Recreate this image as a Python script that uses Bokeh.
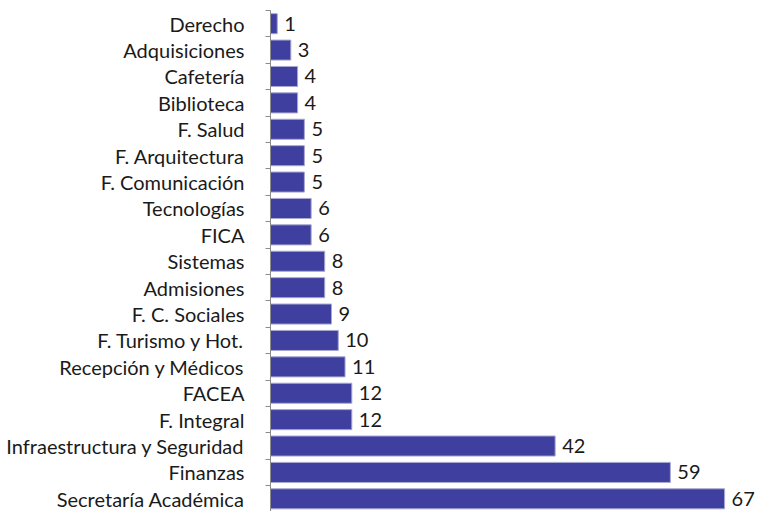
import numpy as np
from bokeh.plotting import figure
from bokeh.models import ColumnDataSource, Range1d, FixedTicker, LabelSet
from bokeh.core.properties import value
from bokeh.embed import file_html
from bokeh.resources import INLINE

categories = ["Derecho", "Adquisiciones", "Cafetería", "Biblioteca", "F. Salud",
              "F. Arquitectura", "F. Comunicación", "Tecnologías", "FICA", "Sistemas",
              "Admisiones", "F. C. Sociales", "F. Turismo y Hot.", "Recepción y Médicos",
              "FACEA", "F. Integral", "Infraestructura y Seguridad", "Finanzas",
              "Secretaría Académica"]
values = [1, 3, 4, 4, 5, 5, 5, 6, 6, 8, 8, 9, 10, 11, 12, 12, 42, 59, 67]

FONT = "Lato"
pos = np.arange(len(categories))
src = ColumnDataSource(dict(y=pos, v=values, lab=[str(v) for v in values]))

p = figure(width=760, height=511, output_backend="svg", toolbar_location=None,
           x_range=Range1d(0, 72.3), y_range=Range1d(18.48, -0.5),
           min_border_left=270, min_border_right=0, min_border_top=10,
           min_border_bottom=0, outline_line_color=None, background_fill_color="white")

p.hbar(y="y", right="v", left=0, height=0.76, source=src,
       fill_color="#3F3FA0", line_color="#A8A8D0", line_width=1)

labels = LabelSet(x="v", y="y", text="lab", source=src, x_offset=7, y_offset=0,
                  text_baseline="middle", text_font=value(FONT), text_font_size="20px",
                  text_color="#1a1a1a")
p.add_layout(labels)

p.xaxis.visible = False
p.xgrid.visible = False
p.ygrid.visible = False

ax = p.yaxis[0]
ax.ticker = FixedTicker(ticks=list(pos), minor_ticks=[i - 0.5 for i in range(len(categories) + 1)])
ax.major_label_overrides = {int(i): c for i, c in zip(pos, categories)}
ax.major_tick_line_color = None
ax.major_tick_out = 0
ax.major_tick_in = 0
ax.minor_tick_line_color = "#8C8C8C"
ax.minor_tick_out = 5
ax.minor_tick_in = 0
ax.axis_line_color = "#8C8C8C"
ax.major_label_standoff = 21
ax.major_label_text_font = FONT
ax.major_label_text_font_size = "20px"
ax.major_label_text_color = "#1a1a1a"

open("out.html", "w").write(file_html(p, INLINE))
